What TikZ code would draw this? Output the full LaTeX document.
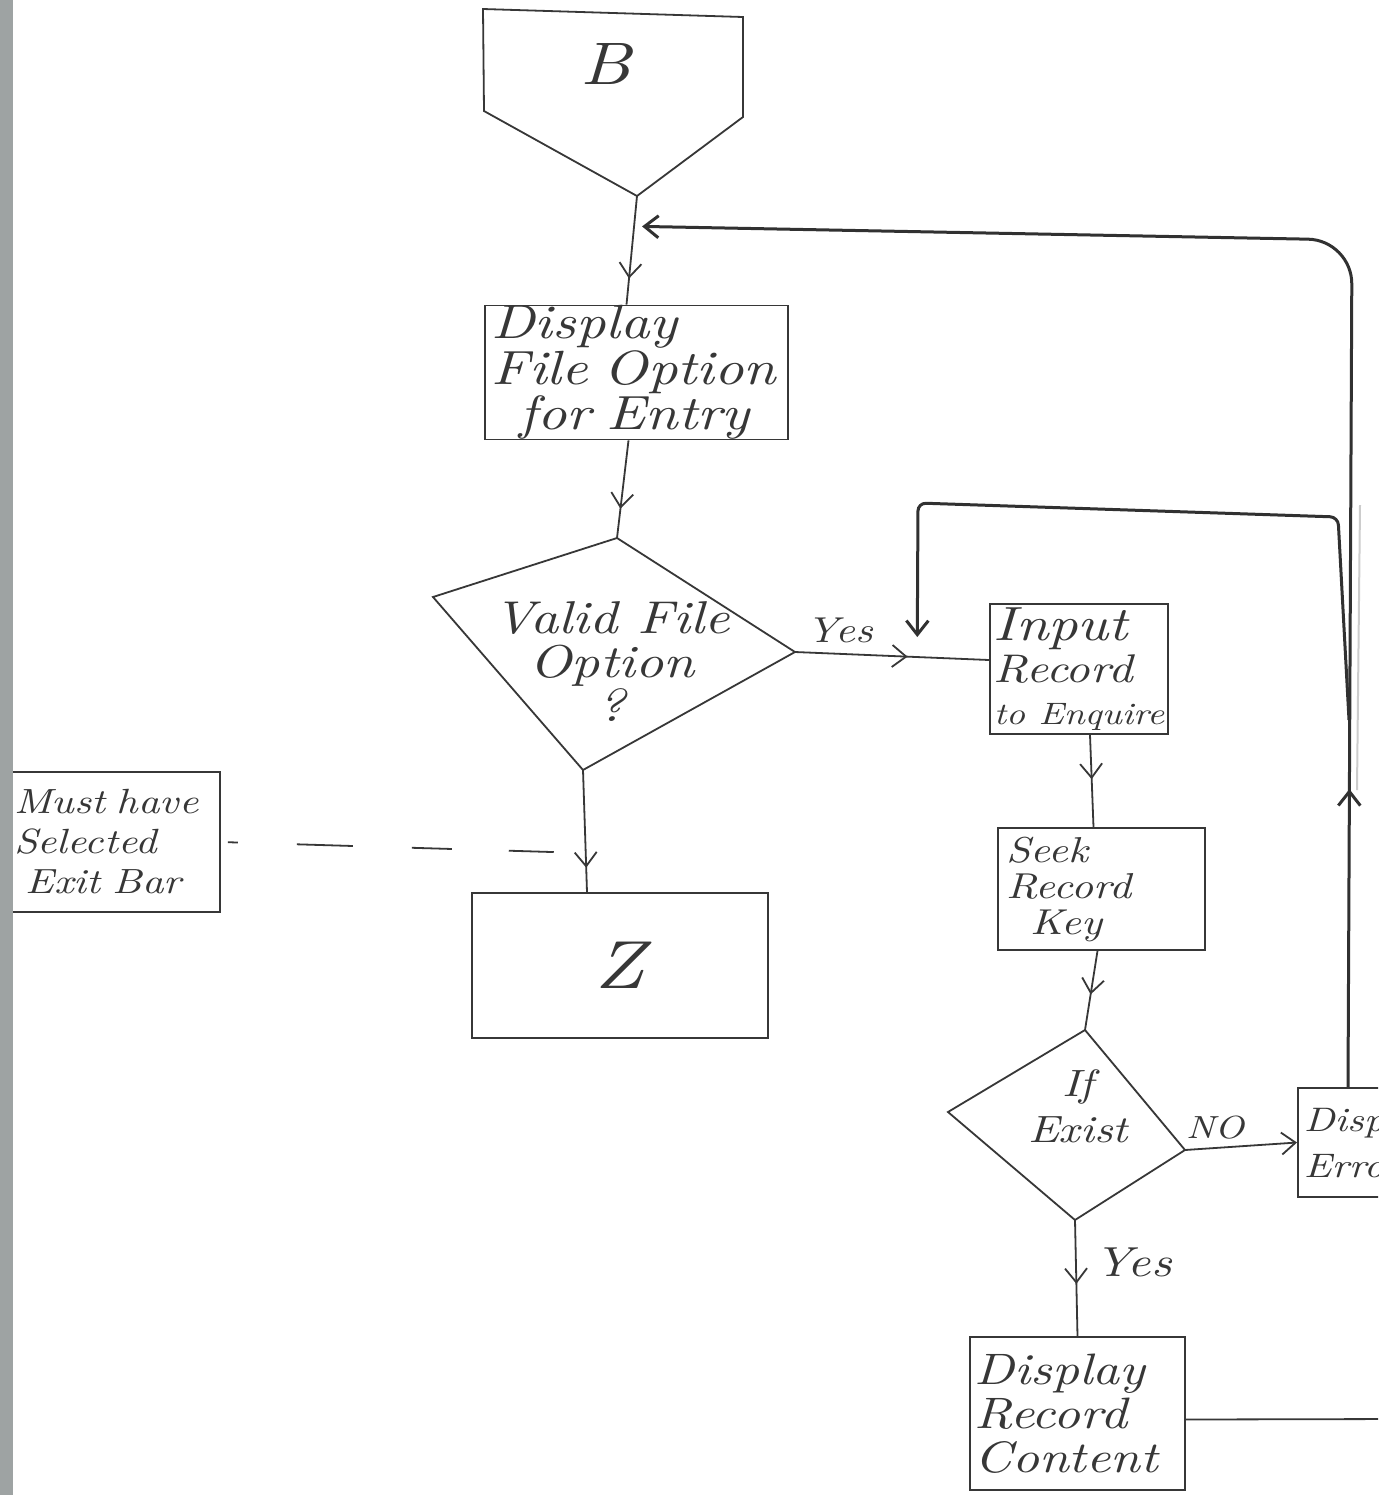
\documentclass[tikz,border=0pt]{standalone}
\usepackage{fontspec}
\newfontfamily\hand[Extension=.otf, FakeStretch=1.2]{lmroman10-italic}
\usetikzlibrary{arrows.meta,decorations.markings}
\definecolor{pencil}{RGB}{55,55,55}
\definecolor{scanedge}{RGB}{158,163,163}
\newcommand\hs[2]{\fontsize{#1}{#2}\selectfont}

\begin{document}
\begin{tikzpicture}[x=0.5pt,y=-0.5pt,
  ink/.style={draw=pencil, line width=0.9pt},
  heavy/.style={draw=pencil!90!black, line width=1.5pt},
  boxnode/.style={ink, rectangle, inner sep=0pt, text=pencil, align=center},
  txt/.style={text=pencil, inner sep=0pt, align=center},
  barb/.style={-{Straight Barb[length=7pt,width=11pt]}},
  midbarb/.style={postaction={decorate}, decoration={markings,
      mark=at position #1 with {\arrow{Straight Barb[length=7pt,width=11pt]}}}},
]
\useasboundingbox (0,0) rectangle (1378,1495);
\clip (0,0) rectangle (1378,1495);
\fill[white] (0,0) rectangle (1378,1495);

% off-page connector B
\draw[ink] (483,9) -- (743,17) -- (743,117) -- (637,196) -- (484,111) -- cycle;
\coordinate (Bp) at (637,196);
\node[txt, font=\hand\hs{30}{30}] (B) at (606,64) {B};

% process boxes
\node[boxnode, text width=145pt, inner xsep=3.25pt, minimum height=62.5pt, align=left,
  font=\hand\hs{24}{20}] (disp) at (636.5,372.5)
  {Display\\File Option\\\hspace*{14pt}for Entry};

\node[boxnode, minimum width=148pt, minimum height=72.5pt, font=\hand\hs{34}{34}]
  (z) at (620,965.5) {Z};

\node[boxnode, minimum width=89pt, minimum height=65pt, align=left,
  font=\hand\hs{20}{21}] (inp) at (1079,669)
  {{\hs{24}{21}Input}\\Record\\{\hs{15.5}{21}to Enquire}};

\node[boxnode, text width=95pt, inner xsep=4.25pt, minimum height=61pt, align=left,
  font=\hand\hs{18}{18}] (seek) at (1101.5,889) {Seek\\Record\\\hspace*{12pt}Key};

\node[boxnode, anchor=west, text width=55pt, inner xsep=3pt, minimum height=54.5pt,
  align=left, font=\hand\hs{17}{23}] (err) at (1297,1142.5) {Display\\Error};

\node[boxnode, text width=103pt, inner xsep=2.25pt, minimum height=76.5pt, align=left,
  font=\hand\hs{22}{22}] (drc) at (1077.5,1413.5) {Display\\Record\\Content};

\node[boxnode, minimum height=70pt, text width=100pt, inner xsep=3pt, align=left,
  font=\hand\hs{17.5}{20}] (must) at (114,842) {Must have\\Selected\\\hspace*{6pt}Exit Bar};

% decision: valid file option
\coordinate (vt) at (617,538);
\coordinate (vr) at (795,652);
\coordinate (vb) at (583,770);
\coordinate (vl) at (433,597);
\draw[ink] (vt) -- (vr) -- (vb) -- (vl) -- cycle;
\node[txt, font=\hand\hs{23}{22}] (valid) at (612,662) {Valid File\\Option\\?};

% decision: record exists
\coordinate (et) at (1085,1030);
\coordinate (er) at (1185,1150);
\coordinate (eb) at (1075,1220);
\coordinate (el) at (948,1112);
\draw[ink] (et) -- (er) -- (eb) -- (el) -- cycle;
\node[txt, font=\hand\hs{19}{23}] (exist) at (1078,1106) {If\\Exist};

% main flow
\draw[ink, midbarb=0.76] (Bp) -- coordinate[pos=0.28] (jn) ([xshift=-5pt]disp.north);
\draw[ink, midbarb=0.7] ([xshift=-4pt]disp.south) -- (vt);
\draw[ink, midbarb=0.8] (vb) -- coordinate[pos=0.68] (dj) ([xshift=-16.5pt]z.north);
\draw[ink, midbarb=0.58] (vr) -- coordinate[pos=0.63] (yj) ([yshift=4.5pt]inp.west);
\node[txt, font=\hand\hs{18}{18}] (yes1) at (840,630) {Yes};
\draw[ink, midbarb=0.48] ([xshift=5.5pt]inp.south) -- ([xshift=-4pt]seek.north);
\draw[ink, midbarb=0.55] ([xshift=-2pt]seek.south) -- (et);
\draw[ink, barb] (er) -- (err.west);
\node[txt, font=\hand\hs{16}{16}] (no) at (1215,1128) {NO};
\draw[ink, midbarb=0.55] (eb) -- (drc.north);
\node[txt, font=\hand\hs{21}{21}] (yes2) at (1133,1262) {Yes};
\coordinate (drcout) at (1400,1419);
\draw[ink] ([yshift=-3pt]drc.east) -- (drcout);

% annotation link
\draw[ink, dash pattern=on 0pt off 3.5pt on 5pt off 29.5pt on 28pt off 29.5pt on 20pt off 28.5pt on 22.5pt off 60pt]
  (must.east) -- (dj);

% return loops
\coordinate (rj) at (1349,720);
\draw[gray!40, line width=1pt] (1360,505) -- (1357,790);
\draw[heavy, rounded corners=22pt, barb, midbarb=149pt]
  ([xshift=25.5pt]err.north west) -- (1352,240) -- ([xshift=4pt]jn);
\draw[heavy, rounded corners=4pt, barb] (rj) -- (1338,517) -- (918,503) -- ([yshift=10pt]yj);

% scanned page edge
\fill[scanedge] (0,0) rectangle (13,1495);
\end{tikzpicture}
\end{document}
